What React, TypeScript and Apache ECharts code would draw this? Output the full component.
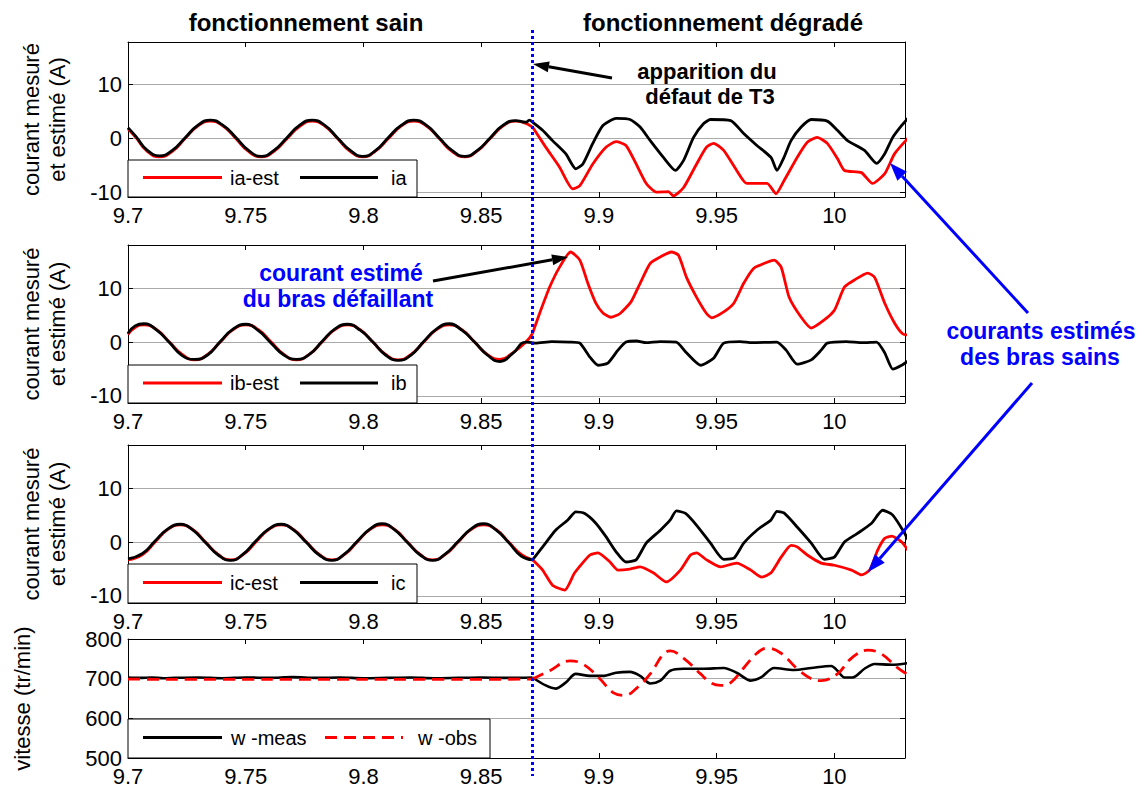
import React, { useEffect, useRef } from "react";
import * as echarts from "echarts";

// ---------- data ----------
const FAULT_T = 9.8718;
const X_MIN = 9.7;
const X_MAX = 10.03;
const X_STEP = 0.05;
const Y_TICKS_I = [-10, 0, 10];
const Y_RANGE_1 = [-10.8, 17.8];
const Y_RANGE_23 = [-11.3, 18];
const W_MIN = 500;
const W_MAX = 800;
const W_STEP = 100;

const TITLES = ["fonctionnement sain", "fonctionnement dégradé"];
const LEGEND_1 = ["ia-est", "ia"];
const LEGEND_2 = ["ib-est", "ib"];
const LEGEND_3 = ["ic-est", "ic"];
const LEGEND_4 = ["w -meas", "w -obs"];

// panel 1 : ia
const IA_EST_H = [[9.7, 1.8], [9.7035, 0.1], [9.708, -2.3], [9.7134, -3.4], [9.7188, -2.4], [9.7242, 0.0], [9.7296, 2.3], [9.735, 3.2], [9.7404, 2.3], [9.7458, 0.0], [9.7512, -2.4], [9.7566, -3.4], [9.762, -2.4], [9.7674, -0.1], [9.7728, 2.2], [9.7782, 3.2], [9.7836, 2.3], [9.789, 0.0], [9.7944, -2.4], [9.7998, -3.4], [9.8052, -2.3], [9.8106, 0.0], [9.816, 2.3], [9.8214, 3.2], [9.8268, 2.3], [9.8322, 0.0], [9.8376, -2.4], [9.843, -3.4], [9.8484, -2.3], [9.8538, 0.0], [9.8592, 2.3], [9.8646, 3.2], [9.8718, 2.1]];
const IA_EST_F = [[9.8718, 2.1], [9.8774, -1.6], [9.8833, -5.3], [9.8889, -9.3], [9.8919, -8.7], [9.8974, -4.7], [9.903, -1.6], [9.9073, -0.6], [9.9115, -1.3], [9.9158, -4.7], [9.9201, -8.3], [9.9244, -9.9], [9.9295, -9.8], [9.9316, -10.6], [9.9359, -9.1], [9.9415, -4.7], [9.9457, -1.6], [9.9487, -0.9], [9.953, -2.2], [9.9585, -5.9], [9.9628, -8.3], [9.9714, -8.3], [9.9752, -10.2], [9.9786, -7.8], [9.9842, -3.5], [9.9885, -0.7], [9.9927, 0.2], [9.997, -0.9], [10.0013, -3.7], [10.0043, -5.9], [10.0115, -6.3], [10.0162, -8.3], [10.0214, -6.5], [10.0256, -2.8], [10.032, 0.4]];
const IA_H = [[9.7, 2.0], [9.7035, 0.3], [9.708, -2.1], [9.7134, -3.2], [9.7188, -2.2], [9.7242, 0.1], [9.7296, 2.4], [9.735, 3.4], [9.7404, 2.4], [9.7458, 0.2], [9.7512, -2.2], [9.7566, -3.3], [9.762, -2.2], [9.7674, 0.1], [9.7728, 2.4], [9.7782, 3.4], [9.7836, 2.4], [9.789, 0.1], [9.7944, -2.2], [9.7998, -3.3], [9.8052, -2.2], [9.8106, 0.2], [9.816, 2.4], [9.8214, 3.4], [9.8268, 2.4], [9.8322, 0.1], [9.8376, -2.2], [9.843, -3.3], [9.8484, -2.2], [9.8538, 0.1], [9.8592, 2.4], [9.8646, 3.3], [9.869, 3.0], [9.8705, 3.4], [9.8718, 3.0]];
const IA_F = [[9.8718, 3.0], [9.8761, 1.5], [9.8803, -0.4], [9.8859, -2.8], [9.8902, -5.6], [9.8932, -4.7], [9.8974, -0.9], [9.9017, 2.4], [9.9073, 3.7], [9.9132, 3.5], [9.9175, 2.1], [9.9218, -0.4], [9.9274, -3.5], [9.9325, -5.9], [9.9359, -4.1], [9.9402, 0.2], [9.9444, 2.7], [9.9474, 3.5], [9.956, 3.3], [9.9615, 0.9], [9.9671, -1.3], [9.9731, -3.5], [9.9756, -5.9], [9.9786, -3.5], [9.9816, -0.4], [9.9859, 2.1], [9.9902, 3.5], [9.997, 3.2], [10.0013, 1.5], [10.0056, -0.4], [10.0128, -2.2], [10.0179, -4.6], [10.0214, -2.8], [10.0248, 0.2], [10.0286, 2.4], [10.032, 4.1]];

// panel 2 : ib
const IB_EST_H = [[9.7, 1.4], [9.703, 2.7], [9.7068, 3.2], [9.7122, 2.3], [9.7176, 0.0], [9.723, -2.3], [9.7284, -3.3], [9.7338, -2.3], [9.7392, 0.0], [9.7446, 2.3], [9.75, 3.2], [9.7554, 2.3], [9.7608, 0.0], [9.7662, -2.3], [9.7716, -3.3], [9.777, -2.3], [9.7824, 0.0], [9.7878, 2.3], [9.7932, 3.2], [9.7986, 2.3], [9.804, 0.0], [9.8094, -2.3], [9.8148, -3.3], [9.8202, -2.3], [9.8256, 0.0], [9.831, 2.3], [9.8364, 3.2], [9.8418, 2.3], [9.8472, 0.0], [9.8526, -2.3], [9.858, -3.2], [9.8634, -2.0], [9.869, 0.0], [9.8718, 1.6]];
const IB_EST_F = [[9.8718, 1.6], [9.8748, 5.3], [9.8791, 10.2], [9.8833, 13.9], [9.888, 16.7], [9.8919, 15.2], [9.8953, 10.9], [9.8987, 7.2], [9.9017, 5.4], [9.9051, 4.6], [9.909, 5.3], [9.9137, 7.5], [9.9175, 10.9], [9.9218, 14.6], [9.9261, 15.8], [9.9308, 16.7], [9.9338, 16.1], [9.9372, 12.0], [9.9415, 8.3], [9.9457, 5.3], [9.9479, 4.5], [9.953, 5.6], [9.9573, 7.2], [9.9615, 10.9], [9.9658, 13.7], [9.9714, 14.8], [9.9744, 15.2], [9.9774, 13.9], [9.9808, 8.3], [9.9859, 4.6], [9.9902, 2.6], [9.9957, 4.1], [10.0, 5.9], [10.0043, 10.2], [10.0085, 11.5], [10.0141, 12.8], [10.0171, 12.0], [10.0214, 7.2], [10.0256, 3.5], [10.0291, 1.5], [10.032, 1.3]];
const IB_H = [[9.7, 1.6], [9.703, 3.0], [9.7068, 3.4], [9.7122, 2.2], [9.7176, -0.1], [9.723, -2.5], [9.7284, -3.2], [9.7338, -2.4], [9.7392, 0.1], [9.7446, 2.4], [9.75, 3.3], [9.7554, 2.1], [9.7608, -0.2], [9.7662, -2.4], [9.7716, -3.2], [9.777, -2.3], [9.7824, 0.1], [9.7878, 2.4], [9.7932, 3.3], [9.7986, 2.2], [9.804, 0.0], [9.8094, -2.4], [9.8148, -3.4], [9.8202, -2.4], [9.8256, 0.1], [9.831, 2.4], [9.8364, 3.4], [9.8418, 2.2], [9.8472, 0.0], [9.8526, -2.4], [9.858, -3.6], [9.8634, -2.1], [9.869, 0.0], [9.8718, -0.1]];
const IB_F = [[9.8718, -0.1], [9.8731, -0.2], [9.88, 0.1], [9.8876, 0.0], [9.8919, -0.2], [9.8962, -2.8], [9.8996, -4.3], [9.9038, -3.9], [9.9081, -1.5], [9.9115, 0.0], [9.916, 0.2], [9.92, -0.1], [9.926, 0.1], [9.9329, 0.0], [9.9372, -2.0], [9.9432, -4.3], [9.9487, -3.0], [9.953, -0.2], [9.96, 0.1], [9.965, -0.1], [9.9756, 0.0], [9.9795, -1.5], [9.9842, -4.1], [9.9902, -3.3], [9.9944, -1.5], [9.997, -0.2], [10.005, 0.1], [10.012, -0.1], [10.0179, 0.0], [10.0214, -2.0], [10.0248, -5.0], [10.0286, -4.3], [10.032, -3.3]];

// panel 3 : ic
const IC_EST_H = [[9.7, -3.3], [9.7062, -2.3], [9.7115, 0.0], [9.7168, 2.3], [9.7222, 3.2], [9.7276, 2.3], [9.7329, 0.0], [9.7383, -2.3], [9.7436, -3.3], [9.749, -2.3], [9.7543, 0.0], [9.7597, 2.3], [9.765, 3.2], [9.7704, 2.3], [9.7758, 0.0], [9.7812, -2.3], [9.7866, -3.3], [9.792, -2.3], [9.7973, 0.0], [9.8027, 2.3], [9.808, 3.2], [9.8134, 2.3], [9.8187, 0.0], [9.8241, -2.3], [9.8294, -3.3], [9.8348, -2.3], [9.8402, 0.0], [9.8456, 2.3], [9.851, 3.2], [9.8564, 2.3], [9.8617, 0.0], [9.867, -2.3], [9.8718, -3.3]];
const IC_EST_F = [[9.8718, -3.3], [9.8761, -5.2], [9.8803, -8.0], [9.8855, -8.9], [9.8897, -5.7], [9.8962, -2.4], [9.8996, -2.0], [9.9047, -3.7], [9.9081, -5.2], [9.9132, -5.0], [9.9175, -4.6], [9.9231, -5.7], [9.9286, -7.4], [9.9346, -5.2], [9.9389, -2.4], [9.9415, -2.0], [9.9457, -3.3], [9.9517, -4.6], [9.9585, -3.9], [9.9645, -5.2], [9.9692, -6.5], [9.9731, -5.7], [9.9774, -2.8], [9.9816, -0.6], [9.9842, -0.9], [9.9885, -2.4], [9.9944, -3.9], [10.0, -4.3], [10.0073, -5.2], [10.0115, -6.1], [10.015, -5.2], [10.0184, -1.5], [10.0214, 0.7], [10.0244, 1.1], [10.0286, 0.0], [10.032, -2.0]];
const IC_H = [[9.7, -3.1], [9.7062, -2.1], [9.7115, 0.2], [9.7168, 2.4], [9.7222, 3.3], [9.7276, 2.2], [9.7329, -0.1], [9.7383, -2.4], [9.7436, -3.4], [9.749, -2.2], [9.7543, 0.2], [9.7597, 2.4], [9.765, 3.3], [9.7704, 2.2], [9.7758, -0.1], [9.7812, -2.4], [9.7866, -3.4], [9.792, -2.2], [9.7973, 0.1], [9.8027, 2.4], [9.808, 3.4], [9.8134, 2.2], [9.8187, -0.1], [9.8241, -2.4], [9.8294, -3.4], [9.8348, -2.2], [9.8402, 0.1], [9.8456, 2.4], [9.851, 3.4], [9.8564, 2.2], [9.8617, -0.1], [9.867, -2.6], [9.8718, -3.3]];
const IC_F = [[9.8718, -3.3], [9.8761, -0.9], [9.8816, 2.2], [9.8868, 4.1], [9.8902, 5.6], [9.894, 5.3], [9.8987, 3.5], [9.903, 1.0], [9.9073, -1.8], [9.9115, -3.7], [9.9158, -3.3], [9.9201, -0.2], [9.9261, 2.2], [9.9303, 4.1], [9.9329, 5.8], [9.9368, 5.3], [9.9415, 3.1], [9.9474, -0.2], [9.953, -3.2], [9.9573, -3.0], [9.9615, -0.2], [9.9671, 2.2], [9.9731, 4.1], [9.9756, 5.7], [9.9786, 5.4], [9.9842, 2.8], [9.9902, -0.2], [9.9957, -3.2], [10.0, -2.8], [10.0043, 0.0], [10.0098, 1.6], [10.0158, 3.5], [10.0205, 5.9], [10.0248, 5.0], [10.0299, 1.6], [10.032, -0.2]];

// panel 4 : speed
const W_MEAS_H = [[9.7, 703], [9.705, 702], [9.71, 703], [9.715, 701], [9.72, 702], [9.73, 703], [9.74, 701], [9.75, 703], [9.76, 702], [9.77, 704], [9.78, 702], [9.79, 703], [9.8, 701], [9.81, 702], [9.82, 703], [9.83, 701], [9.84, 702], [9.85, 703], [9.86, 702], [9.8718, 703]];
const W_MEAS_F = [[9.8718, 703], [9.8774, 683], [9.8816, 675], [9.8859, 690], [9.8902, 712], [9.8962, 707], [9.9017, 707], [9.9073, 715], [9.9132, 717], [9.9175, 707], [9.9218, 688], [9.9261, 695], [9.9303, 720], [9.9359, 725], [9.9444, 725], [9.953, 727], [9.9585, 715], [9.9645, 695], [9.9688, 703], [9.9744, 727], [9.9829, 722], [9.9902, 727], [9.9987, 732], [10.0013, 720], [10.0043, 703], [10.0077, 703], [10.0128, 725], [10.0171, 737], [10.0244, 735], [10.032, 740]];
const W_OBS_H = [[9.7, 699], [9.72, 698], [9.76, 698], [9.8, 698], [9.84, 698], [9.8718, 699]];
const W_OBS_F = [[9.8718, 699], [9.8791, 720], [9.8876, 745], [9.8932, 737], [9.9004, 700], [9.906, 665], [9.9111, 658], [9.9158, 675], [9.9218, 712], [9.9274, 762], [9.9303, 770], [9.9359, 752], [9.9432, 712], [9.9474, 690], [9.9517, 683], [9.956, 690], [9.9615, 727], [9.9671, 764], [9.9714, 777], [9.9774, 764], [9.9842, 725], [9.9902, 700], [9.9944, 695], [10.0013, 712], [10.0073, 752], [10.0141, 772], [10.0201, 762], [10.0269, 727], [10.032, 707]];

// ---------- layout / style ----------
const FONT = "Liberation Sans";
const RED = "#ff0000";
const BLACK = "#000000";
const BLUE = "#0000ff";
const GRIDS = [
  { top: 42, height: 155 },
  { top: 245, height: 158 },
  { top: 445, height: 158 },
  { top: 639, height: 119 },
];
const LEFT = 128;
const RIGHT = 240;
const TICK_FONT = 22;

function xAxes(g: number) {
  const base = {
    type: "value",
    gridIndex: g,
    min: X_MIN,
    max: X_MAX,
    interval: X_STEP,
    splitLine: { show: false },
    axisLine: { show: true, onZero: false, lineStyle: { color: "#000", width: 1 } },
    axisTick: { show: true, inside: true, length: 5, lineStyle: { color: "#000" } },
  };
  return [
    {
      ...base,
      position: "bottom",
      axisLabel: {
        color: "#000",
        fontSize: TICK_FONT,
        fontFamily: FONT,
        margin: 7,
        showMaxLabel: false,
        formatter: (v: number) => String(Math.round(v * 100) / 100),
      },
    },
    { ...base, position: "top", axisLabel: { show: false } },
  ];
}

function yAxesCurrent(g: number, range: number[]) {
  const base = {
    type: "value",
    gridIndex: g,
    min: range[0],
    max: range[1],
    axisLine: { show: true, onZero: false, lineStyle: { color: "#000", width: 1 } },
    axisTick: { show: true, inside: true, length: 5, customValues: Y_TICKS_I, lineStyle: { color: "#000" } },
  };
  return [
    {
      ...base,
      position: "left",
      name: "courant mesuré\net estimé (A)",
      nameLocation: "middle",
      nameGap: 58,
      nameTextStyle: { fontSize: 22, fontFamily: FONT, color: "#000", lineHeight: 26 },
      axisLabel: { color: "#000", fontSize: TICK_FONT, fontFamily: FONT, margin: 6, customValues: Y_TICKS_I },
      splitLine: { show: true, lineStyle: { color: "#aaaaaa", width: 1 } },
    },
    { ...base, position: "right", axisLabel: { show: false }, splitLine: { show: false } },
  ];
}

function yAxesSpeed(g: number) {
  const base = {
    type: "value",
    gridIndex: g,
    min: W_MIN,
    max: W_MAX,
    interval: W_STEP,
    axisLine: { show: true, onZero: false, lineStyle: { color: "#000", width: 1 } },
    axisTick: { show: true, inside: true, length: 5, lineStyle: { color: "#000" } },
  };
  return [
    {
      ...base,
      position: "left",
      name: "vitesse (tr/min)",
      nameLocation: "middle",
      nameGap: 95,
      nameTextStyle: { fontSize: 22, fontFamily: FONT, color: "#000" },
      axisLabel: { color: "#000", fontSize: TICK_FONT, fontFamily: FONT, margin: 6 },
      splitLine: { show: true, lineStyle: { color: "#aaaaaa", width: 1 } },
    },
    { ...base, position: "right", axisLabel: { show: false }, splitLine: { show: false } },
  ];
}

function line(name: string, data: number[][], color: string, g: number, smooth: number, dashed = false, width = 2.8) {
  return {
    type: "line",
    name,
    data,
    xAxisIndex: 2 * g,
    yAxisIndex: 2 * g,
    showSymbol: false,
    symbol: "none",
    smooth,
    clip: true,
    silent: true,
    lineStyle: { color, width, type: dashed ? [12, 7] : "solid" },
  };
}

function arrow(x1: number, y1: number, x2: number, y2: number, color: string, w: number, hl: number, hw: number) {
  const a = Math.atan2(y2 - y1, x2 - x1);
  const c = Math.cos(a);
  const s = Math.sin(a);
  const bx = x2 - hl * c;
  const by = y2 - hl * s;
  const px = -s;
  const py = c;
  return [
    { type: "line", z: 100, shape: { x1, y1, x2: bx, y2: by }, style: { stroke: color, lineWidth: w } },
    {
      type: "polygon",
      z: 100,
      shape: { points: [[x2, y2], [bx + (px * hw) / 2, by + (py * hw) / 2], [bx - (px * hw) / 2, by - (py * hw) / 2]] },
      style: { fill: color },
    },
  ];
}

function txt(text: string, x: number, y: number, size: number, color: string, bold: boolean, align = "center") {
  return {
    type: "text",
    z: 101,
    x,
    y,
    style: { text, fontSize: size, fontFamily: FONT, fontWeight: bold ? "bold" : "normal", fill: color, align, verticalAlign: "middle" },
  };
}

function legendBox(labels: string[], y: number, h: number, w: number, x2: number, t1: number, t2: number, secondDashed: boolean, firstColor: string, secondColor: string) {
  const cy = y + h / 2 - 1;
  return [
    { type: "rect", z: 100, shape: { x: LEFT, y, width: w, height: h }, style: { fill: "#fff", stroke: "#000", lineWidth: 1 } },
    { type: "line", z: 101, shape: { x1: 143, y1: cy, x2: 222, y2: cy }, style: { stroke: firstColor, lineWidth: 3 } },
    txt(labels[0], t1, cy, 20, "#000", false, "left"),
    {
      type: "line",
      z: 101,
      shape: { x1: x2, y1: cy, x2: x2 + 78, y2: cy },
      style: { stroke: secondColor, lineWidth: 3, lineDash: secondDashed ? [12, 7] : null },
    },
    txt(labels[1], t2, cy, 20, "#000", false, "left"),
  ];
}

export default function App() {
  const ref = useRef<HTMLDivElement>(null);
  useEffect(() => {
    if (!ref.current) return;
    const chart = echarts.init(ref.current, undefined, { renderer: "svg" });
    const option: any = {
      animation: false,
      backgroundColor: "#ffffff",
      grid: GRIDS.map((g) => ({ left: LEFT, right: RIGHT, top: g.top, height: g.height, containLabel: false })),
      xAxis: [...xAxes(0), ...xAxes(1), ...xAxes(2), ...xAxes(3)],
      yAxis: [...yAxesCurrent(0, Y_RANGE_1), ...yAxesCurrent(1, Y_RANGE_23), ...yAxesCurrent(2, Y_RANGE_23), ...yAxesSpeed(3)],
      series: [
        line("ia-est", IA_EST_H, RED, 0, 0.5),
        line("ia-est", IA_EST_F, RED, 0, 0.2),
        line("ia", IA_H, BLACK, 0, 0.5),
        line("ia", IA_F, BLACK, 0, 0.2),
        line("ib-est", IB_EST_H, RED, 1, 0.5),
        line("ib-est", IB_EST_F, RED, 1, 0.2),
        line("ib", IB_H, BLACK, 1, 0.5),
        line("ib", IB_F, BLACK, 1, 0.2),
        line("ic-est", IC_EST_H, RED, 2, 0.5),
        line("ic-est", IC_EST_F, RED, 2, 0.2),
        line("ic", IC_H, BLACK, 2, 0.5),
        line("ic", IC_F, BLACK, 2, 0.2),
        line("w -meas", W_MEAS_H, BLACK, 3, 0.3, false, 2.6),
        line("w -meas", W_MEAS_F, BLACK, 3, 0.3, false, 2.6),
        line("w -obs", W_OBS_H, RED, 3, 0.3, true, 2.8),
        line("w -obs", W_OBS_F, RED, 3, 0.4, true, 2.8),
      ],
    };
    chart.setOption(option);

    const fx = chart.convertToPixel({ xAxisIndex: 0 }, FAULT_T) as number;
    const elements: any[] = [
      txt(TITLES[0], 306, 22, 24, "#000", true),
      txt(TITLES[1], 723, 22, 24, "#000", true),
      ...legendBox(LEGEND_1, 160, 37, 289, 300, 230, 391, false, RED, BLACK),
      ...legendBox(LEGEND_2, 365, 38, 289, 300, 230, 391, false, RED, BLACK),
      ...legendBox(LEGEND_3, 564, 39, 289, 300, 230, 391, false, RED, BLACK),
      ...legendBox(LEGEND_4, 719, 39, 362, 325, 231, 418, true, BLACK, RED),
      txt("apparition du", 707, 71, 22, "#000", true),
      txt("défaut de T3", 710, 96, 22, "#000", true),
      ...arrow(612, 78, 533, 64, "#000", 3, 16, 11),
      txt("courant estimé", 341, 273, 23, BLUE, true),
      txt("du bras défaillant", 338, 299, 23, BLUE, true),
      ...arrow(433, 281, 568, 257, "#000", 3, 16, 11),
      txt("courants estimés", 1041, 331, 23, BLUE, true),
      txt("des bras sains", 1040, 357, 23, BLUE, true),
      ...arrow(1028, 313, 890, 163, BLUE, 3, 18, 13),
      ...arrow(1032, 383, 868, 572, BLUE, 3, 18, 13),
      {
        type: "line",
        z: 102,
        shape: { x1: fx, y1: 30, x2: fx, y2: 776 },
        style: { stroke: BLUE, lineWidth: 3, lineDash: [3, 3] },
      },
    ];
    chart.setOption({ graphic: { elements } });
    return () => chart.dispose();
  }, []);
  return (
    <div
      ref={ref}
      style={{ position: "absolute", left: 0, top: 0, width: 1145, height: 789, background: "#fff" }}
    />
  );
}
